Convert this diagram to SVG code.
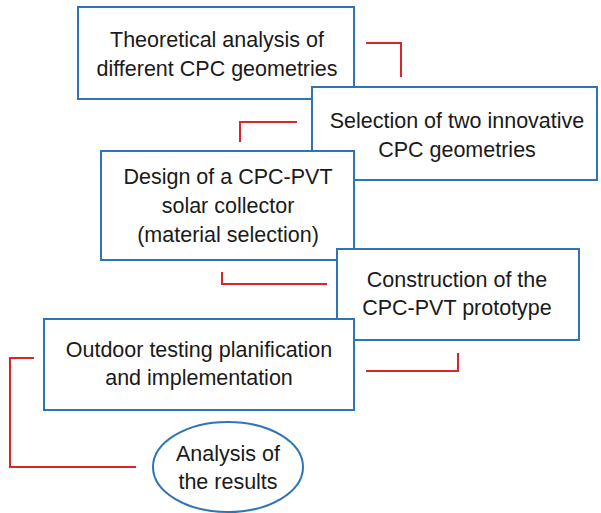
<svg xmlns="http://www.w3.org/2000/svg" width="601" height="513" viewBox="0 0 601 513">
<style>
.box{fill:#ffffff;stroke:#2E75B6;stroke-width:2}
.lbl{font-family:"Liberation Sans",Arial,sans-serif;font-size:21.5px;fill:#1a1a1a;text-anchor:middle}
.con{fill:none;stroke:#D9262B;stroke-width:2}
</style>
<rect width="601" height="513" fill="#ffffff"/>
<g id="connectors">
<polyline class="con" points="366,43 401,43 401,77"/>
<polyline class="con" points="297,122 240,122 240,142"/>
<polyline class="con" points="222,272 222,284 327,284"/>
<polyline class="con" points="366,371 458,371 458,353"/>
<polyline class="con" points="34,358 10,358 10,467 136,467"/>
</g>
<g id="n1">
<rect class="box" x="78" y="7" width="276" height="92"/>
<text class="lbl" x="217" y="47">Theoretical analysis of</text>
<text class="lbl" x="217" y="76">different CPC geometries</text>
</g>
<g id="n2">
<rect class="box" x="312" y="87" width="285" height="93"/>
<text class="lbl" x="457" y="128">Selection of two innovative</text>
<text class="lbl" x="457" y="157">CPC geometries</text>
</g>
<g id="n3">
<rect class="box" x="101" y="151" width="253" height="109"/>
<text class="lbl" x="228" y="184">Design of a CPC-PVT</text>
<text class="lbl" x="228" y="213">solar collector</text>
<text class="lbl" x="228" y="242">(material selection)</text>
</g>
<g id="n4">
<rect class="box" x="337" y="249" width="242" height="91"/>
<text class="lbl" x="457" y="287">Construction of the</text>
<text class="lbl" x="457" y="315">CPC-PVT prototype</text>
</g>
<g id="n5">
<rect class="box" x="44" y="319" width="310" height="91"/>
<text class="lbl" x="199" y="357">Outdoor testing planification</text>
<text class="lbl" x="199" y="385">and implementation</text>
</g>
<g id="n6">
<ellipse class="box" cx="228" cy="467" rx="75" ry="45"/>
<text class="lbl" x="228" y="461">Analysis of</text>
<text class="lbl" x="228" y="489">the results</text>
</g>
</svg>
